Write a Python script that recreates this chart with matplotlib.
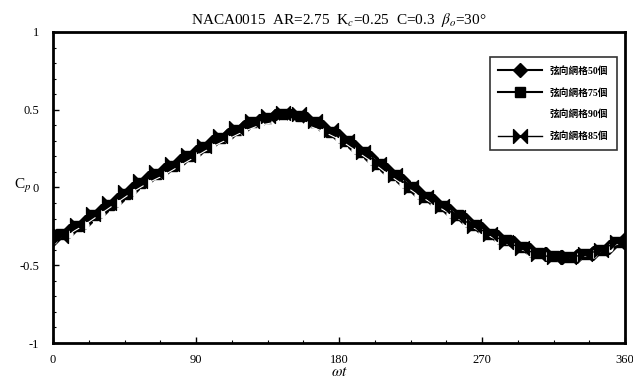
import matplotlib.pyplot as plt
import numpy as np
from matplotlib.path import Path

plt.rcParams['font.family'] = ['Liberation Serif', 'Noto Sans CJK TC', 'DejaVu Sans']
plt.rcParams['mathtext.fontset'] = 'stix'

# phase angle (deg)
ang_a = list(range(0, 361, 10))
ang_b = list(range(5, 356, 10))

# chordwise grid study, Cp vs phase
cp_50 = [-0.33, -0.28, -0.22, -0.15, -0.08, -0.01, 0.06, 0.11, 0.17, 0.23,
         0.29, 0.34, 0.39, 0.43, 0.46, 0.46, 0.44, 0.39, 0.33, 0.26,
         0.19, 0.11, 0.04, -0.03, -0.09, -0.15, -0.21, -0.27, -0.32, -0.36,
         -0.40, -0.43, -0.45, -0.44, -0.42, -0.38, -0.33]
cp_75 = [-0.30, -0.25, -0.18, -0.11, -0.04, 0.03, 0.09, 0.14, 0.20, 0.26,
         0.32, 0.37, 0.42, 0.45, 0.47, 0.46, 0.42, 0.36, 0.30, 0.23,
         0.15, 0.08, 0.00, -0.06, -0.12, -0.18, -0.24, -0.30, -0.34, -0.38,
         -0.42, -0.44, -0.45, -0.43, -0.40, -0.35]
cp_90 = [-0.34, -0.30, -0.24, -0.17, -0.10, -0.03, 0.03, 0.08, 0.14, 0.20,
         0.26, 0.31, 0.36, 0.40, 0.42, 0.42, 0.40, 0.36, 0.31, 0.24,
         0.17, 0.09, 0.02, -0.05, -0.11, -0.17, -0.23, -0.29, -0.34, -0.38,
         -0.42, -0.44, -0.46, -0.45, -0.43, -0.39, -0.34]
cp_85 = [-0.31, -0.24, -0.17, -0.10, -0.03, 0.04, 0.10, 0.15, 0.21, 0.27,
         0.33, 0.38, 0.43, 0.46, 0.48, 0.47, 0.43, 0.37, 0.30, 0.23,
         0.15, 0.08, 0.00, -0.06, -0.12, -0.19, -0.25, -0.30, -0.35, -0.39,
         -0.43, -0.45, -0.45, -0.43, -0.40, -0.35]

labels = ['弦向網格50個', '弦向網格75個', '弦向網格90個', '弦向網格85個']

# bow-tie marker
bowtie = Path([(-1, 1), (0, 0), (-1, -1), (-1, 1), (1, 1), (0, 0), (1, -1), (1, 1)],
              [1, 2, 2, 79, 1, 2, 2, 79])

fig = plt.figure(figsize=(6.33, 3.89), dpi=100)
ax = fig.add_axes([53/633, 46/389, 572/633, 311/389])

ax.plot(ang_a, cp_50, color='black', lw=1.5, marker='D', ms=7, mfc='black', label=labels[0])
ax.plot(ang_b, cp_75, color='black', lw=1.5, marker='s', ms=7, mfc='black', label=labels[1])
ax.plot(ang_a, cp_90, color='white', lw=0.8, marker='o', ms=5, mfc='white', mec='white', label=labels[2])
ax.plot(ang_b, cp_85, color='black', lw=1.0, marker=bowtie, ms=10, mfc='black', label=labels[3])

ax.set_xlim(0, 360)
ax.set_ylim(-1, 1)
ax.set_xticks([0, 90, 180, 270, 360])
ax.set_yticks([-1, -0.5, 0, 0.5, 1])
ax.set_yticklabels(['-1', '-0.5', '0', '0.5', '1'])
ax.set_xticks(np.arange(0, 361, 22.5), minor=True)
ax.set_yticks(np.arange(-1, 1.01, 0.1), minor=True)
ax.tick_params(direction='in', length=4, width=1, labelsize=9)
ax.tick_params(axis='x', pad=8)
ax.tick_params(axis='y', pad=10)
ax.tick_params(which='minor', direction='in', length=2, width=0.8)
for s in ax.spines.values():
    s.set_linewidth(2)

ax.set_title(r'NACA0015  AR=2.75  K$_c$=0.25  C=0.3  $\beta_o$=30°', fontsize=11, pad=6)
ax.set_xlabel(r'$\omega t$', fontsize=11, labelpad=0)
fig.text(14/633, 1 - 186/389, r'C$_p$', fontsize=11, ha='left', va='center')

leg = ax.legend(loc='upper right', bbox_to_anchor=(0.995, 0.935), fontsize=7,
                frameon=True, fancybox=False, edgecolor='black', handlelength=4.5,
                borderpad=0.9, labelspacing=1.25)
leg.get_frame().set_linewidth(1.2)
for t in leg.get_texts():
    t.set_fontweight('bold')

fig.savefig('out.png', dpi=100)
